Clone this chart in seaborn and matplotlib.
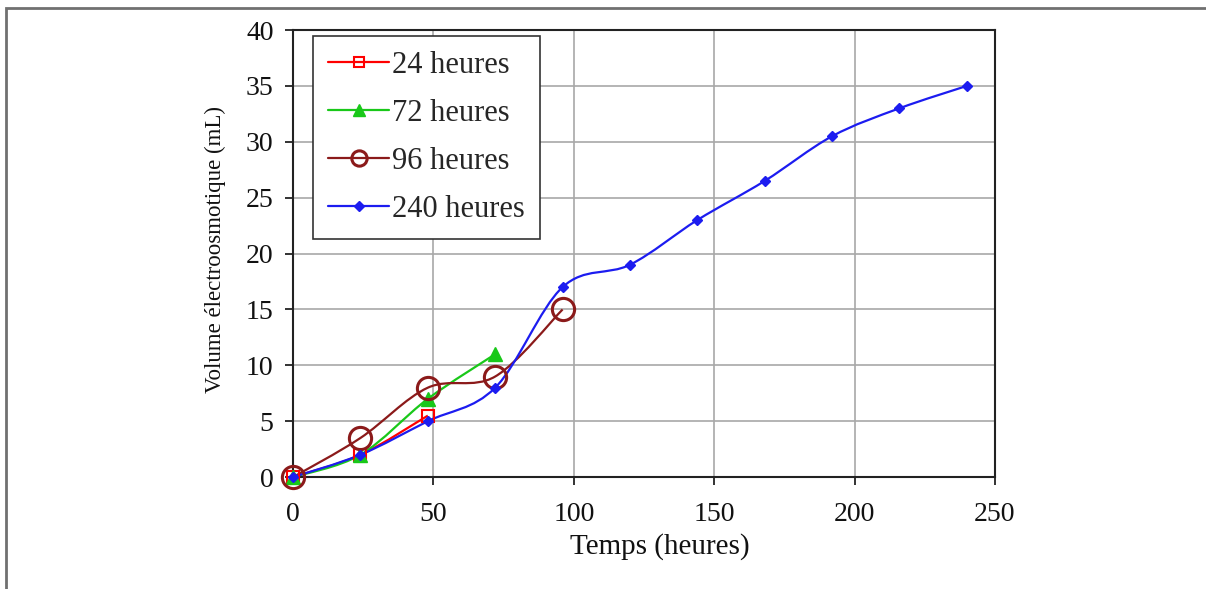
import numpy as np
import pandas as pd
import matplotlib
matplotlib.use("Agg")
import matplotlib.pyplot as plt
from matplotlib.path import Path
from matplotlib.patches import PathPatch, Rectangle
from matplotlib.lines import Line2D
import seaborn as sns

# ---- data ----
t_24 = [0, 24, 48]
v_24 = [0, 2, 5.5]
t_72 = [0, 24, 48, 72]
v_72 = [0, 2, 7, 11]
t_96 = [0, 24, 48, 72, 96]
v_96 = [0, 3.5, 8, 9, 15]
t_240 = [0, 24, 48, 72, 96, 120, 144, 168, 192, 216, 240]
v_240 = [0, 2, 5, 8, 17, 19, 23, 26.5, 30.5, 33, 35]
labels = ["24 heures", "72 heures", "96 heures", "240 heures"]
x_ticks = [0, 50, 100, 150, 200, 250]
y_ticks = [0, 5, 10, 15, 20, 25, 30, 35, 40]

sns.set_theme(style="white")
plt.rcParams["font.family"] = ["Liberation Serif", "DejaVu Serif"]

fig = plt.figure(figsize=(12.06, 5.89), dpi=100)
ax = fig.add_axes([0.243, 0.190, 0.582, 0.759])

# figure frame (top & left visible)
fig.add_artist(Rectangle((0.005, -0.05), 1.1, 1.037,
                         transform=fig.transFigure, fill=False,
                         edgecolor="#707070", linewidth=2.0))


def smooth_path(xs, ys):
    """Excel-style smoothed curve as cubic Bezier path (control points from data)."""
    x = np.asarray(xs, float)
    y = np.asarray(ys, float)
    n = len(x)
    verts = [(x[0], y[0])]
    codes = [Path.MOVETO]
    for i in range(n - 1):
        i0 = max(i - 1, 0)
        i3 = min(i + 2, n - 1)
        c1 = (x[i] + (x[i + 1] - x[i0]) / 6.0, y[i] + (y[i + 1] - y[i0]) / 6.0)
        c2 = (x[i + 1] - (x[i3] - x[i]) / 6.0, y[i + 1] - (y[i3] - y[i]) / 6.0)
        verts += [c1, c2, (x[i + 1], y[i + 1])]
        codes += [Path.CURVE4] * 3
    return Path(verts, codes)


series = [
    (t_24, v_24, "#ff0000", dict(marker="s", markerfacecolor="none",
                                 markeredgecolor="#ff0000", markeredgewidth=1.5), 9, 7),
    (t_72, v_72, "#19c819", dict(marker="^", markerfacecolor="#19c819",
                                 markeredgecolor="#19c819", markeredgewidth=1), 10, 8),
    (t_96, v_96, "#8b1a1a", dict(marker="o", markerfacecolor="none",
                                 markeredgecolor="#8b1a1a", markeredgewidth=2.2), 16, 11),
    (t_240, v_240, "#1c1cf0", dict(marker="D", markerfacecolor="#1c1cf0",
                                   markeredgecolor="#1c1cf0", markeredgewidth=1), 5, 5),
]

handles = []
for (xs, ys, col, mk, ms, lms), lab in zip(series, labels):
    ax.add_patch(PathPatch(smooth_path(xs, ys), fill=False, edgecolor=col,
                           linewidth=1.6, zorder=3))
    df = pd.DataFrame({"t": xs, "v": ys})
    sns.lineplot(data=df, x="t", y="v", ax=ax, color=col, linestyle="",
                 zorder=4, markersize=ms, clip_on=False, **mk)
    handles.append(Line2D([], [], color=col, linewidth=1.6, markersize=lms, **mk))

ax.set_xlim(0, 250)
ax.set_ylim(0, 40)
ax.set_xticks(x_ticks)
ax.set_yticks(y_ticks)
ax.grid(True, color="#a8a8a8", linewidth=1.2)
ax.set_axisbelow(True)
for s in ax.spines.values():
    s.set_visible(True)
    s.set_color("#222222")
    s.set_linewidth(1.5)
ax.tick_params(axis="both", direction="out", length=6, width=1.3, color="#222222",
               labelsize=20, labelcolor="#111111", bottom=True, left=True)
ax.tick_params(axis="x", pad=12)
ax.tick_params(axis="y", pad=8)
ax.set_xlabel("Temps (heures)", fontsize=21, color="#111111", labelpad=4)
ax.xaxis.label.set_x(0.522)
ax.set_ylabel("Volume électroosmotique (mL)", fontsize=16.5, color="#111111", labelpad=14)
ax.yaxis.label.set_y(0.51)

leg = ax.legend(handles, labels, loc="upper left", bbox_to_anchor=(0.028, 0.987),
                fontsize=22, frameon=True, fancybox=False, edgecolor="#333333",
                handlelength=2.0, handletextpad=0.1, borderpad=0.5,
                labelspacing=0.62, borderaxespad=0.0)
leg.get_frame().set_linewidth(1.2)
leg.get_frame().set_facecolor("white")
leg.get_frame().set_alpha(1.0)

fig.savefig("out.png", dpi=100, facecolor="white")
